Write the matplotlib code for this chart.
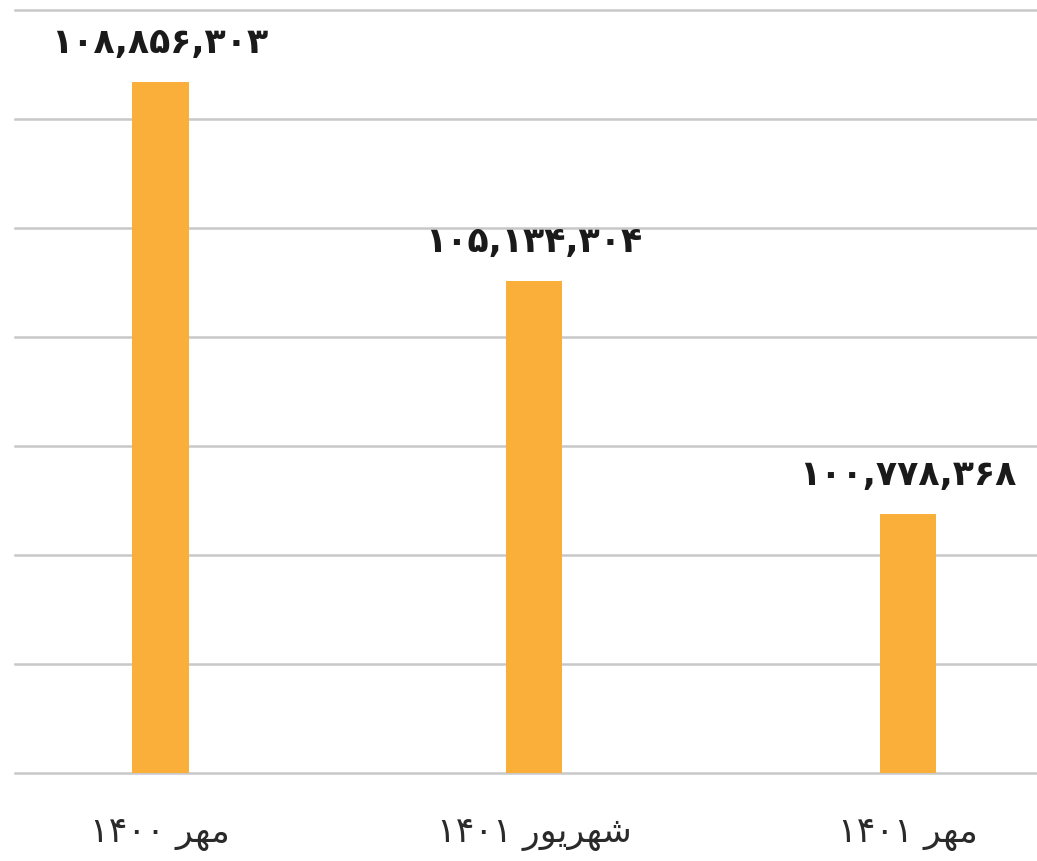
import matplotlib
matplotlib.use("Agg")
import matplotlib.pyplot as plt
import numpy as np

# values
categories = ["مهر ۱۴۰۰", "شهریور ۱۴۰۱", "مهر ۱۴۰۱"]
values = [108856303, 105134304, 100778368]

# visual (left-to-right, shaped) forms of the labels, since matplotlib does no bidi/shaping
MEHR = "\uFEAE\uFEEC\uFEE3"
SHAHRIVAR = "\uFEAD\uFEEE\uFEF3\uFEAE\uFEEC\uFEB7"
tick_labels = ["۱۴۰۰ " + MEHR, "۱۴۰۱ " + SHAHRIVAR, "۱۴۰۱ " + MEHR]

FA_DIGITS = str.maketrans("0123456789", "۰۱۲۳۴۵۶۷۸۹")

def fa_num(v):
    return "{:,}".format(v).translate(FA_DIGITS)

fig = plt.figure(figsize=(10.37, 8.61), dpi=100)
ax = fig.add_axes([15 / 1037, 88 / 861, 1 - 15 / 1037, 763 / 861])

x = np.arange(len(values))
ax.bar(x, values, width=0.152, color="#F9AF3A", zorder=3)

ymin, ymax = 95.94e6, 110.2e6
ax.set_ylim(ymin, ymax)
ax.set_xlim(-0.388, 2.345)
ax.set_yticks(np.linspace(ymin, ymax, 8))
ax.yaxis.grid(True, color="#C8C8C8", linewidth=1.8, zorder=0)
for gl in ax.get_ygridlines():
    gl.set_clip_on(False)
ax.tick_params(axis="y", left=False, labelleft=False)
ax.tick_params(axis="x", bottom=False, pad=28)
ax.set_xticks(x)
ax.set_xticklabels(tick_labels, fontsize=25, fontfamily=["DejaVu Sans"],
                   fontweight="normal", color="#2a2a2a")
for s in ax.spines.values():
    s.set_visible(False)

for xi, v in zip(x, values):
    ax.annotate(fa_num(v), (xi, v), xytext=(0, 16), textcoords="offset points",
                ha="center", va="bottom", fontsize=25, fontweight="bold",
                color="#1a1a1a")

fig.savefig("out.png", dpi=100)
